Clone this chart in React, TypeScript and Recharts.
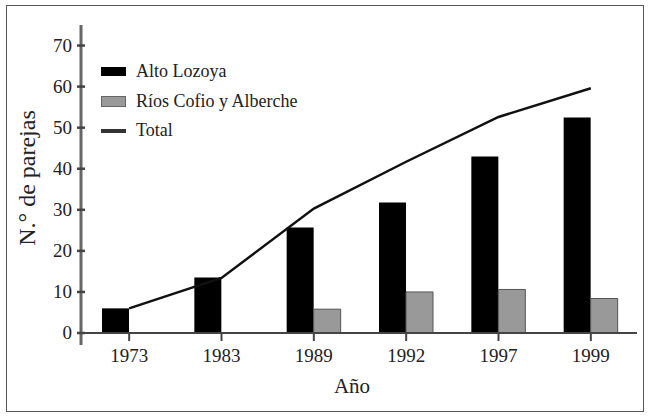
import React from "react";
import { Bar, ComposedChart, Line, XAxis, YAxis } from "recharts";

const years = ["1973", "1983", "1989", "1992", "1997", "1999"];
const altoLozoya = [6, 13.5, 25.7, 31.8, 43, 52.5];
const cofioAlberche = [0, 0, 5.8, 10, 10.6, 8.4];
const total = [6, 13.4, 30.3, 41.7, 52.6, 59.6];
const yTicks = [0, 10, 20, 30, 40, 50, 60, 70];

const data = years.map((year, i) => ({
  year,
  alto: altoLozoya[i],
  cofio: cofioAlberche[i],
  total: total[i],
}));

const FONT = "Liberation Serif, Times New Roman, Times, DejaVu Serif, Noto Serif, serif";
const TEXT = "#222";

function YTick(props: any) {
  const { x, y, payload } = props;
  return (
    <g>
      {payload.value === 0 && (
        <line x1={x} y1={y} x2={x} y2={y + 12} stroke="#666" strokeWidth={3} />
      )}
      <line x1={x - 4} y1={y} x2={x + 4} y2={y} stroke="#444" strokeWidth={2.5} />
      <text
        x={x - 9}
        y={y + 6}
        textAnchor="end"
        style={{ fontFamily: FONT }}
        fontSize={19}
        fill={TEXT}
      >
        {payload.value}
      </text>
    </g>
  );
}

function XTick(props: any) {
  const { x, payload } = props;
  return (
    <g>
      <line x1={x} y1={333} x2={x} y2={341} stroke="#444" strokeWidth={2} />
      <text
        x={x}
        y={362}
        textAnchor="middle"
        style={{ fontFamily: FONT }}
        fontSize={19}
        fill={TEXT}
      >
        {payload.value}
      </text>
    </g>
  );
}

function LegendBox() {
  const row: React.CSSProperties = {
    display: "flex",
    alignItems: "center",
    height: 29.5,
    fontFamily: FONT,
    fontSize: 18,
    color: TEXT,
    whiteSpace: "nowrap",
  };
  return (
    <div style={{ position: "absolute", left: 101, top: 57 }}>
      <div style={row}>
        <span style={{ width: 25, height: 9, background: "#000", marginRight: 10 }} />
        Alto Lozoya
      </div>
      <div style={row}>
        <span
          style={{
            width: 25,
            height: 11,
            background: "#999",
            border: "1px solid #666",
            boxSizing: "border-box",
            marginRight: 10,
          }}
        />
        Ríos Cofio y Alberche
      </div>
      <div style={row}>
        <span style={{ width: 25, height: 4, background: "#333", marginRight: 10 }} />
        Total
      </div>
    </div>
  );
}

export default function App() {
  return (
    <div
      style={{
        position: "absolute",
        left: 0,
        top: 0,
        width: 650,
        height: 417,
        background: "#fff",
        fontFamily: FONT,
      }}
    >
      <div
        style={{
          position: "absolute",
          left: 6,
          top: 5,
          width: 638,
          height: 407,
          border: "1.5px solid #555",
          boxSizing: "border-box",
        }}
      />
      <ComposedChart
        width={650}
        height={417}
        data={data}
        margin={{ top: 25, right: 13, bottom: 54, left: 0 }}
        barGap={0}
        style={{ position: "absolute", left: 0, top: 0 }}
      >
        <XAxis
          dataKey="year"
          height={30}
          padding={{ left: 2, right: 0 }}
          axisLine={{ stroke: "#444", strokeWidth: 2 }}
          tickLine={false}
          tick={<XTick />}
          interval={0}
          label={() => (
            <text
              x={352}
              y={393}
              textAnchor="middle"
              style={{ fontFamily: FONT }}
              fontSize={21}
              fill={TEXT}
            >
              Año
            </text>
          )}
        />
        <YAxis
          width={81}
          domain={[0, 75]}
          ticks={yTicks}
          interval={0}
          tickSize={0}
          tickMargin={0}
          tickLine={false}
          axisLine={{ stroke: "#666", strokeWidth: 3 }}
          tick={<YTick />}
          label={() => (
            <text
              x={35}
              y={178}
              transform="rotate(-90, 35, 178)"
              textAnchor="middle"
              style={{ fontFamily: FONT }}
              fontSize={24}
              fill={TEXT}
            >
              N.° de parejas
            </text>
          )}
        />
        <Line
          dataKey="total"
          name="Total"
          type="linear"
          stroke="#111"
          strokeWidth={2.5}
          dot={false}
          isAnimationActive={false}
        />
        <Bar dataKey="alto" name="Alto Lozoya" fill="#000" barSize={27} isAnimationActive={false} />
        <Bar
          dataKey="cofio"
          name="Ríos Cofio y Alberche"
          fill="#999"
          stroke="#555"
          strokeWidth={1}
          barSize={27}
          isAnimationActive={false}
        />
      </ComposedChart>
      <LegendBox />
    </div>
  );
}
